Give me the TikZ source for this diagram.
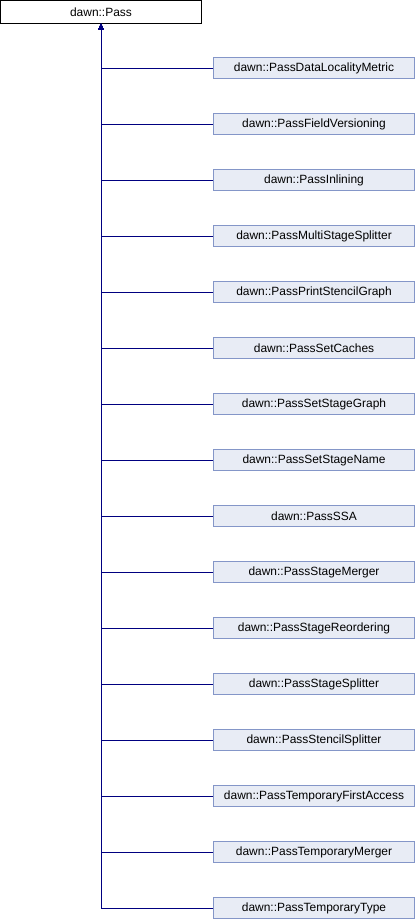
\documentclass[tikz,border=0pt]{standalone}
\usepackage{fontspec}
\setmainfont{Liberation Sans}
\usetikzlibrary{arrows.meta}
\definecolor{edgecol}{RGB}{0,0,128}
\definecolor{dfill}{RGB}{232,236,245}
\definecolor{dborder}{RGB}{132,150,200}
\tikzset{
  basebox/.style={draw=black, fill=white, line width=1bp, minimum width=201bp, minimum height=22.5bp, inner sep=0pt, font=\fontsize{12}{14}\selectfont},
  derbox/.style={draw=dborder, fill=dfill, line width=1bp, minimum width=201bp, minimum height=21bp, inner sep=0pt, font=\fontsize{12}{14}\selectfont},
  edge/.style={draw=edgecol, line width=1bp, -{Triangle[width=5bp,length=6bp]}}
}
\begin{document}
\begin{tikzpicture}[x=1bp,y=-1bp]
\useasboundingbox (0,0) rectangle (416,920);
\node[basebox] (base) at (101,11.75) {dawn::Pass};
\foreach \i/\t in {0/PassDataLocalityMetric,1/PassFieldVersioning,2/PassInlining,3/PassMultiStageSplitter,4/PassPrintStencilGraph,5/PassSetCaches,6/PassSetStageGraph,7/PassSetStageName,8/PassSSA,9/PassStageMerger,10/PassStageReordering,11/PassStageSplitter,12/PassStencilSplitter,13/PassTemporaryFirstAccess,14/PassTemporaryMerger,15/PassTemporaryType}{
  \node[derbox] (d\i) at (314, 68+56*\i) {dawn::\t};
}
\foreach \i in {0,...,15}{
  \draw[edge] (d\i.west) -| (base.south);
}
\end{tikzpicture}
\end{document}
